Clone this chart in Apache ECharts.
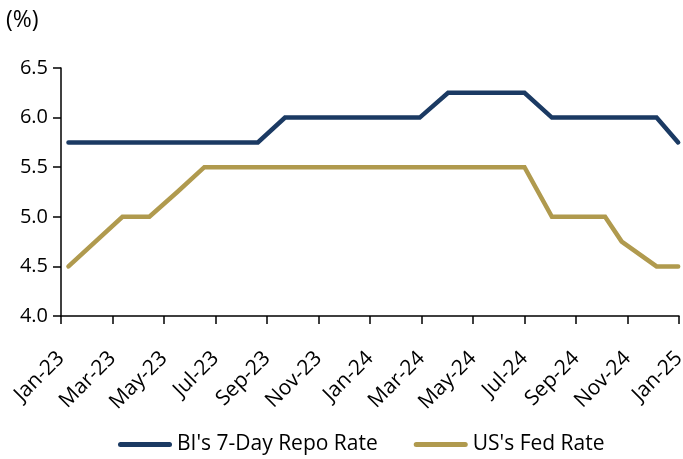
<!DOCTYPE html>
<html lang="en">
<head>
    <meta charset="UTF-8">
    <title>BI Rate vs US Fed Rate</title>
    <script src="https://cdn.jsdelivr.net/npm/echarts@6.0.0/dist/echarts.min.js"></script>
    <style>
        html, body {
            margin: 0;
            padding: 0;
            background: #fff;
        }

        #chart {
            width: 683px;
            height: 459px;
        }
    </style>
</head>
<body>
<div id="chart"></div>
<script>
    // tick labels, one every two months from Jan-23
    const tickLabels = ['Jan-23', 'Mar-23', 'May-23', 'Jul-23', 'Sep-23', 'Nov-23', 'Jan-24',
        'Mar-24', 'May-24', 'Jul-24', 'Sep-24', 'Nov-24', 'Jan-25'];

    // BI's 7-Day Repo Rate (%), read at the turning points of the line
    const biDates = ['2023-01-10', '2023-08-21', '2023-09-22', '2024-02-28', '2024-04-02',
        '2024-07-01', '2024-08-03', '2024-12-05', '2024-12-31'];
    const biRates = [5.75, 5.75, 6.0, 6.0, 6.25, 6.25, 6.0, 6.0, 5.75];

    // US's Fed Rate (%)
    const fedDates = ['2023-01-10', '2023-03-13', '2023-04-14', '2023-05-17', '2023-06-18',
        '2024-07-01', '2024-08-03', '2024-10-05', '2024-10-25', '2024-12-05', '2024-12-31'];
    const fedRates = [4.5, 5.0, 5.0, 5.25, 5.5, 5.5, 5.0, 5.0, 4.75, 4.5, 4.5];

    // months elapsed since 1 Jan 2023 (fractional)
    function monthsSinceStart(str) {
        const [y, m, d] = str.split('-').map(Number);
        const daysInMonth = new Date(y, m, 0).getDate();
        return (y - 2023) * 12 + (m - 1) + (d - 1) / daysInMonth;
    }

    function toPoints(dates, values) {
        return dates.map((d, i) => [monthsSinceStart(d), values[i]]);
    }

    const font = '"Open Sans", "Noto Sans", sans-serif';
    const navy = '#1b3a63';
    const gold = '#b09a4e';

    const chart = echarts.init(document.getElementById('chart'), null, { renderer: 'canvas' });

    const option = {
        animation: false,
        backgroundColor: '#fff',
        title: {
            text: '(%)',
            left: 6,
            top: 9,
            padding: 0,
            textStyle: {
                fontFamily: font,
                fontSize: 23,
                fontWeight: 'normal',
                color: '#000'
            }
        },
        grid: {
            left: 61,
            right: 4,
            top: 68,
            bottom: 143,
            containLabel: false,
            outerBoundsMode: 'none'
        },
        legend: {
            left: 118,
            top: 434,
            padding: 0,
            itemWidth: 54,
            itemHeight: 5,
            itemGap: 36,
            icon: 'path://M2.5,0H51.5A2.5,2.5,0,0,1,51.5,5H2.5A2.5,2.5,0,0,1,2.5,0Z',
            textStyle: {
                fontFamily: font,
                fontSize: 21,
                color: '#000'
            },
            data: ["BI's 7-Day Repo Rate", "US's Fed Rate"]
        },
        xAxis: {
            type: 'value',
            min: 0,
            max: 24,
            interval: 2,
            splitLine: { show: false },
            axisLine: {
                show: true,
                onZero: false,
                lineStyle: { color: '#000', width: 1.5 }
            },
            axisTick: {
                show: true,
                length: 8,
                lineStyle: { color: '#000', width: 1.5 }
            },
            axisLabel: {
                rotate: 45,
                margin: 39,
                fontFamily: font,
                fontSize: 21,
                color: '#000',
                hideOverlap: false,
                formatter: v => tickLabels[Math.round(v / 2)] || ''
            }
        },
        yAxis: {
            type: 'value',
            min: 4,
            max: 6.5,
            interval: 0.5,
            splitLine: { show: false },
            axisLine: {
                show: true,
                lineStyle: { color: '#000', width: 1.5 }
            },
            axisTick: {
                show: true,
                length: 8,
                lineStyle: { color: '#000', width: 1.5 }
            },
            axisLabel: {
                margin: 13,
                fontFamily: font,
                fontSize: 20,
                color: '#000',
                formatter: v => v.toFixed(1)
            }
        },
        series: [
            {
                name: "BI's 7-Day Repo Rate",
                type: 'line',
                data: toPoints(biDates, biRates),
                symbol: 'none',
                color: navy,
                lineStyle: { color: navy, width: 4.5, cap: 'round', join: 'miter' }
            },
            {
                name: "US's Fed Rate",
                type: 'line',
                data: toPoints(fedDates, fedRates),
                symbol: 'none',
                color: gold,
                lineStyle: { color: gold, width: 4.5, cap: 'round', join: 'miter' }
            }
        ]
    };

    chart.setOption(option);
</script>
</body>
</html>
